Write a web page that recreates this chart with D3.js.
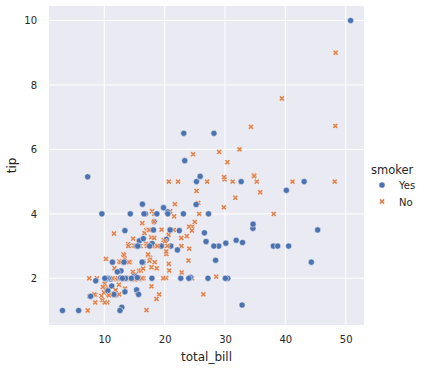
<!DOCTYPE html>
<html>
<head>
<meta charset="utf-8">
<script src="https://cdn.jsdelivr.net/npm/d3@7"></script>
<style>
  body { margin: 0; background: #fff; }
  svg text { font-family: "DejaVu Sans", sans-serif; fill: #262626; }
</style>
</head>
<body>
<div id="chart"></div>
<script>
// tips dataset, row order kept so marks overlap like the original
var totalBill = [
  16.99,10.34,21.01,23.68,24.59,25.29,8.77,26.88,15.04,14.78,
  10.27,35.26,15.42,18.43,14.83,21.58,10.33,16.29,16.97,20.65,
  17.92,20.29,15.77,39.42,19.82,17.81,13.37,12.69,21.70,19.65,
  9.55,18.35,15.06,20.69,17.78,24.06,16.31,16.93,18.69,31.27,
  16.04,17.46,13.94,9.68,30.40,18.29,22.23,32.40,28.55,18.04,
  12.54,10.29,34.81,9.94,25.56,19.49,38.01,26.41,11.24,48.27,
  20.29,13.81,11.02,18.29,17.59,20.08,16.45,3.07,20.23,15.01,
  12.02,17.07,26.86,25.28,14.73,10.51,17.92,27.20,22.76,17.29,
  19.44,16.66,10.07,32.68,15.98,34.83,13.03,18.28,24.71,21.16,
  28.97,22.49,5.75,16.32,22.75,40.17,27.28,12.03,21.01,12.46,
  11.35,15.38,44.30,22.42,20.92,15.36,20.49,25.21,18.24,14.31,
  14.00,7.25,38.07,23.95,25.71,17.31,29.93,10.65,12.43,24.08,
  11.69,13.42,14.26,15.95,12.48,29.80,8.52,14.52,11.38,22.82,
  19.08,20.27,11.17,12.26,18.26,8.51,10.33,14.15,16.00,13.16,
  17.47,34.30,41.19,27.05,16.43,8.35,18.64,11.87,9.78,7.51,
  14.07,13.13,17.26,24.55,19.77,29.85,48.17,25.00,13.39,16.49,
  21.50,12.66,16.21,13.81,17.51,24.52,20.76,31.71,10.59,10.63,
  50.81,15.81,7.25,31.85,16.82,32.90,17.89,14.48,9.60,34.63,
  34.65,23.33,45.35,23.17,40.55,20.69,20.90,30.46,18.15,23.10,
  15.69,19.81,28.44,15.48,16.58,7.56,10.34,43.11,13.00,13.51,
  18.71,12.74,13.00,16.40,20.53,16.47,26.59,38.73,24.27,12.76,
  30.06,25.89,48.33,13.27,28.17,12.90,28.15,11.59,7.74,30.14,
  12.16,13.42,8.58,15.98,13.42,16.27,10.09,20.45,13.28,22.12,
  24.01,15.69,11.61,10.77,15.53,10.07,12.60,32.83,35.83,29.03,
  27.18,22.67,17.82,18.78
];
var tip = [
  1.01,1.66,3.50,3.31,3.61,4.71,2.00,3.12,1.96,3.23,
  1.71,5.00,1.57,3.00,3.02,3.92,1.67,3.71,3.50,3.35,
  4.08,2.75,2.23,7.58,3.18,2.34,2.00,2.00,4.30,3.00,
  1.45,2.50,3.00,2.45,3.27,3.60,2.00,3.07,2.31,5.00,
  2.24,2.54,3.06,1.32,5.60,3.00,5.00,6.00,2.05,3.00,
  2.50,2.60,5.20,1.56,4.34,3.51,3.00,1.50,1.76,6.73,
  3.21,2.00,1.98,3.76,2.64,3.15,2.47,1.00,2.01,2.09,
  1.97,3.00,3.14,5.00,2.20,1.25,3.08,4.00,3.00,2.71,
  3.00,3.40,1.83,5.00,2.03,5.17,2.00,4.00,5.85,3.00,
  3.00,3.50,1.00,4.30,3.25,4.73,4.00,1.50,3.00,1.50,
  2.50,3.00,2.50,3.48,4.08,1.64,4.06,4.29,3.76,4.00,
  3.00,1.00,4.00,2.55,4.00,3.50,5.07,1.50,1.80,2.92,
  2.31,1.68,2.50,2.00,2.52,4.20,1.48,2.00,2.00,2.18,
  1.50,2.83,1.50,2.00,3.25,1.25,2.00,2.00,2.00,2.75,
  3.50,6.70,5.00,5.00,2.30,1.50,1.36,1.63,1.73,2.00,
  2.50,2.00,2.74,2.00,2.00,5.14,5.00,3.75,2.61,2.00,
  3.50,2.50,2.00,2.00,3.00,3.48,2.24,4.50,1.61,2.00,
  10.00,3.16,5.15,3.18,4.00,3.11,2.00,2.00,4.00,3.55,
  3.68,5.65,3.50,6.50,3.00,5.00,3.50,2.00,3.50,4.00,
  1.50,4.19,2.56,2.02,4.00,1.44,2.00,5.00,2.00,2.00,
  4.00,2.01,2.00,2.50,4.00,3.23,3.41,3.00,2.03,2.23,
  2.00,5.16,9.00,2.50,6.50,1.10,3.00,1.50,1.44,3.09,
  2.20,3.48,1.92,3.00,1.58,2.50,2.00,3.00,2.72,2.88,
  2.00,3.00,3.39,1.47,3.00,1.25,1.00,1.17,4.67,5.92,
  2.00,2.00,1.75,3.00
];
var smoker = [
  "No","No","No","No","No","No","No","No","No","No",
  "No","No","No","No","No","No","No","No","No","No",
  "No","No","No","No","No","No","No","No","No","No",
  "No","No","No","No","No","No","No","No","No","No",
  "No","No","No","No","No","No","No","No","No","No",
  "No","No","No","No","No","No","Yes","No","Yes","No",
  "Yes","Yes","Yes","Yes","No","No","No","Yes","No","Yes",
  "No","No","Yes","Yes","No","No","Yes","No","No","No",
  "Yes","No","No","Yes","No","No","No","No","No","No",
  "Yes","No","Yes","Yes","No","Yes","Yes","Yes","Yes","No",
  "Yes","Yes","Yes","Yes","No","Yes","Yes","Yes","No","Yes",
  "No","No","No","No","No","No","No","No","No","No",
  "No","No","No","No","No","No","No","No","No","No",
  "No","No","No","No","No","No","No","No","Yes","No",
  "No","No","No","No","No","No","No","No","No","No",
  "No","No","No","No","No","No","No","No","No","No",
  "No","No","No","No","Yes","No","No","No","Yes","Yes",
  "Yes","Yes","Yes","Yes","Yes","Yes","Yes","Yes","Yes","Yes",
  "Yes","Yes","Yes","Yes","Yes","No","Yes","Yes","Yes","Yes",
  "Yes","Yes","Yes","Yes","Yes","No","Yes","Yes","Yes","Yes",
  "Yes","Yes","Yes","Yes","Yes","Yes","Yes","Yes","Yes","Yes",
  "Yes","Yes","No","Yes","Yes","Yes","Yes","Yes","Yes","Yes",
  "Yes","Yes","Yes","No","Yes","Yes","Yes","No","No","Yes",
  "Yes","Yes","No","No","Yes","No","Yes","Yes","No","No",
  "Yes","Yes","No","No"
];
var smokerLevels = ["Yes", "No"];
var xTicks = [10, 20, 30, 40, 50];
var yTicks = [2, 4, 6, 8, 10];

window.onload = function() {
  main();
};

function main() {
  var width = 427;
  var height = 369;
  var plot = {left: 49, right: 364, top: 6, bottom: 325};
  var colors = {"Yes": "#4c72b0", "No": "#dd8452"};

  var svg = d3.select("#chart")
              .append("svg")
              .attr("width", width)
              .attr("height", height);

  var xScale = d3.scaleLinear()
                 .domain([0.84, 53.03])
                 .range([plot.left, plot.right]);
  var yScale = d3.scaleLinear()
                 .domain([0.55, 10.45])
                 .range([plot.bottom, plot.top]);

  svg.append("rect")
     .attr("x", plot.left)
     .attr("y", plot.top)
     .attr("width", plot.right - plot.left)
     .attr("height", plot.bottom - plot.top)
     .attr("fill", "#eaeaf2");

  // grid
  svg.selectAll(".xgrid")
     .data(xTicks)
     .enter()
     .append("line")
     .attr("class", "xgrid")
     .attr("x1", function(d){ return xScale(d); })
     .attr("x2", function(d){ return xScale(d); })
     .attr("y1", plot.top)
     .attr("y2", plot.bottom)
     .attr("stroke", "#fff")
     .attr("stroke-width", 1);
  svg.selectAll(".ygrid")
     .data(yTicks)
     .enter()
     .append("line")
     .attr("class", "ygrid")
     .attr("y1", function(d){ return yScale(d); })
     .attr("y2", function(d){ return yScale(d); })
     .attr("x1", plot.left)
     .attr("x2", plot.right)
     .attr("stroke", "#fff")
     .attr("stroke-width", 1);

  var xAxis = d3.axisBottom(xScale).tickValues(xTicks).tickSize(0).tickPadding(11);
  var yAxis = d3.axisLeft(yScale).tickValues(yTicks).tickSize(0).tickPadding(12);

  var gx = svg.append("g")
              .attr("transform", "translate(0," + plot.bottom + ")")
              .call(xAxis);
  var gy = svg.append("g")
              .attr("transform", "translate(" + plot.left + ",0)")
              .call(yAxis);
  [gx, gy].forEach(function(g){
    g.select(".domain").remove();
    g.selectAll("text")
     .attr("font-size", "10px")
     .attr("font-family", null)
     .style("fill", "#262626");
  });

  svg.append("text")
     .attr("x", (plot.left + plot.right) / 2)
     .attr("y", 360.5)
     .attr("text-anchor", "middle")
     .attr("font-size", "12px")
     .text("total_bill");

  svg.append("text")
     .attr("transform", "translate(16," + (plot.top + plot.bottom) / 2 + ") rotate(-90)")
     .attr("text-anchor", "middle")
     .attr("font-size", "12px")
     .text("tip");

  // filled "X" marker, same outline as matplotlib's
  var xPts = [[-1,-2],[0,-1],[1,-2],[2,-1],[1,0],[2,1],[1,2],[0,1],[-1,2],[-2,1],[-1,0],[-2,-1]];
  var xPath = "M" + xPts.map(function(p){ return (p[0] * 1.45) + "," + (p[1] * 1.45); }).join("L") + "Z";
  var circlePath = d3.symbol().type(d3.symbolCircle).size(Math.PI * 3.1 * 3.1)();

  function markerPath(s){
    return s == "Yes" ? circlePath : xPath;
  }

  var points = [];
  for (var i = 0; i < totalBill.length; i++){
    points.push({bill: totalBill[i], tip: tip[i], smoker: smoker[i]});
  }

  svg.selectAll(".point")
     .data(points)
     .enter()
     .append("path")
     .attr("class", "point")
     .attr("d", function(d){ return markerPath(d.smoker); })
     .attr("transform", function(d){
       return "translate(" + xScale(d.bill) + "," + yScale(d.tip) + ")";
     })
     .attr("fill", function(d){ return colors[d.smoker]; })
     .attr("stroke", "#fff")
     .attr("stroke-width", 0.5);

  // legend
  svg.append("text")
     .attr("x", 371)
     .attr("y", 173.5)
     .attr("font-size", "11.5px")
     .text("smoker");

  var legend = svg.selectAll(".legendItem")
                  .data(smokerLevels)
                  .enter()
                  .append("g")
                  .attr("class", "legendItem")
                  .attr("transform", function(d, i){
                    return "translate(382," + (185 + 16.5 * i) + ")";
                  });
  legend.append("path")
        .attr("d", function(d){ return markerPath(d); })
        .attr("fill", function(d){ return colors[d]; })
        .attr("stroke", "#fff")
        .attr("stroke-width", 0.5);
  legend.append("text")
        .attr("x", 17)
        .attr("y", 4)
        .attr("font-size", "10px")
        .text(function(d){ return d; });
}
</script>
</body>
</html>
